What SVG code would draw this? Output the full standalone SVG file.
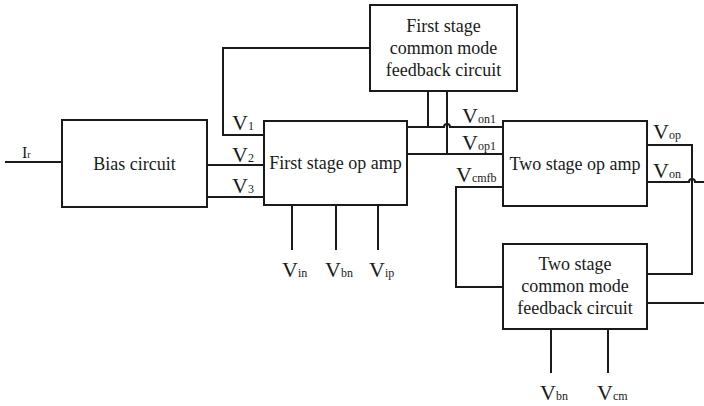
<svg xmlns="http://www.w3.org/2000/svg" width="704" height="406" viewBox="0 0 704 406">
<style>
.box{fill:#fff;stroke:#1a1a1a;stroke-width:2}
.w{fill:none;stroke:#1a1a1a;stroke-width:2}
text{font-family:'Liberation Serif','Tinos','DejaVu Serif','Times New Roman',Times,serif;fill:#1a1a1a}
.t{font-size:18px;text-anchor:middle}
.v{font-size:22px}
.s{font-size:12px}
</style>
<rect width="704" height="406" fill="#fff"/>
<g id="connectors">
<path class="w" d="M5 162H62"/>
<path class="w" d="M207 165H264"/>
<path class="w" d="M207 197H264"/>
<path class="w" d="M264 135H223V48H370"/>
<path class="w" d="M428 91V127"/>
<path class="w" d="M447 91V154"/>
<path class="w" d="M407 127H444A3 3 0 0 1 450 127H503"/>
<path class="w" d="M407 154H503"/>
<path class="w" d="M503 187H456V287H503"/>
<path class="w" d="M647 145H692V274H647"/>
<path class="w" d="M647 182H689A3 3 0 0 1 695 182H704"/>
<path class="w" d="M647 303H704"/>
<path class="w" d="M292 205V250M336 205V250M378 205V250"/>
<path class="w" d="M551 329V373M608 329V373"/>
</g>
<g id="bias">
<rect class="box" x="62" y="120" width="145" height="87"/>
<text class="t" x="134.5" y="170">Bias circuit</text>
</g>
<g id="first-stage">
<rect class="box" x="264" y="121" width="143" height="84"/>
<text class="t" x="335.5" y="169">First stage op amp</text>
</g>
<g id="first-cmfb">
<rect class="box" x="370" y="5" width="147" height="86"/>
<text class="t" x="443.5" y="32">First stage</text>
<text class="t" x="443.5" y="54">common mode</text>
<text class="t" x="443.5" y="76">feedback circuit</text>
</g>
<g id="two-stage">
<rect class="box" x="503" y="121" width="144" height="85"/>
<text class="t" x="575" y="170">Two stage op amp</text>
</g>
<g id="two-cmfb">
<rect class="box" x="503" y="244" width="144" height="85"/>
<text class="t" x="575" y="270">Two stage</text>
<text class="t" x="575" y="292">common mode</text>
<text class="t" x="575" y="314">feedback circuit</text>
</g>
<g id="labels">
<text class="v" x="22" y="158" style="font-size:16px">I<tspan style="font-size:10px">r</tspan></text>
<text class="v" x="232" y="130">V<tspan class="s">1</tspan></text>
<text class="v" x="232" y="162">V<tspan class="s">2</tspan></text>
<text class="v" x="232" y="193">V<tspan class="s">3</tspan></text>
<text class="v" x="462" y="123">V<tspan class="s">on1</tspan></text>
<text class="v" x="462" y="150">V<tspan class="s">op1</tspan></text>
<text class="v" x="456" y="182">V<tspan class="s">cmfb</tspan></text>
<text class="v" x="653" y="139">V<tspan class="s">op</tspan></text>
<text class="v" x="653" y="178">V<tspan class="s">on</tspan></text>
<text class="v" x="282" y="277">V<tspan class="s">in</tspan></text>
<text class="v" x="325" y="277">V<tspan class="s">bn</tspan></text>
<text class="v" x="369" y="277">V<tspan class="s">ip</tspan></text>
<text class="v" x="540" y="400">V<tspan class="s">bn</tspan></text>
<text class="v" x="597" y="400">V<tspan class="s">cm</tspan></text>
</g>
</svg>
